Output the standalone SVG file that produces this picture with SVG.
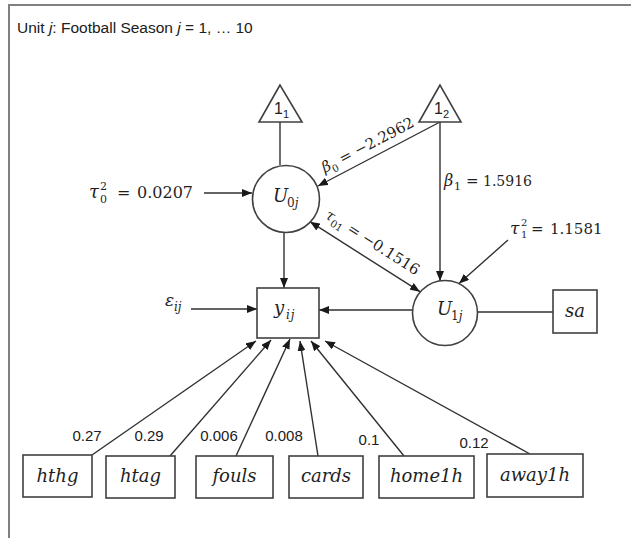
<svg xmlns="http://www.w3.org/2000/svg" width="631" height="538" viewBox="0 0 631 538">
<style>
.ln{stroke:#303030;stroke-width:1.4;fill:none}
.ar{marker-end:url(#ah)}
.nd{fill:#fff;stroke:#404040;stroke-width:1.6}
.mt{font-family:"DejaVu Serif",serif;fill:#1f1f1f}
.it{font-style:italic}
.sn{font-family:"Liberation Sans",Arial,sans-serif;fill:#202020}
.lbl{font-family:"DejaVu Serif",serif;font-style:italic;font-size:18px;fill:#1f1f1f;text-anchor:middle}
.co{font-family:"Liberation Sans",Arial,sans-serif;font-size:15px;fill:#202020;text-anchor:middle}
</style>
<defs>
<marker id="ah" viewBox="0 0 10 8" refX="10" refY="4" markerWidth="10" markerHeight="8" markerUnits="userSpaceOnUse" orient="auto-start-reverse"><path d="M0,0 L10,4 L0,8 z" fill="#1a1a1a"/></marker>
</defs>
<rect x="0" y="0" width="631" height="538" fill="#fff"/>
<rect x="9" y="5" width="700" height="600" fill="#fff" stroke="#808080" stroke-width="2"/>
<text id="title" class="sn" x="17" y="33" font-size="15.5">Unit <tspan font-style="italic">j</tspan>: Football Season <tspan font-style="italic">j</tspan> = 1, … 10</text>

<g id="connectors">
<path class="ln ar" d="M204,193 H252"/>
<path class="ln" d="M280,122 V165"/>
<path class="ln ar" d="M440,122 L318,186"/>
<path class="ln ar" d="M440,122 V281"/>
<path class="ln ar" d="M508,240 L459,283.5"/>
<path class="ln ar" d="M310,221.7 L420,291.7" marker-start="url(#ah)"/>
<path class="ln ar" d="M284,232.5 V288"/>
<path class="ln ar" d="M191,309 H257"/>
<path class="ln ar" d="M413,310 H319"/>
<path class="ln" d="M477.5,312 H553"/>
<path class="ln ar" d="M92,455 L256,341"/>
<path class="ln ar" d="M170,456 L271,340"/>
<path class="ln ar" d="M236,456 L290,339"/>
<path class="ln ar" d="M318,456 L300,341"/>
<path class="ln ar" d="M404,456 L311,341"/>
<path class="ln ar" d="M530,454 L325,341"/>
</g>

<g id="edge-labels">
<text class="mt" font-size="16"><tspan x="89" y="198" class="it" font-size="18">τ</tspan><tspan x="100" y="190" font-size="11">2</tspan><tspan x="100" y="203" font-size="11">0</tspan><tspan x="117" y="198">=</tspan><tspan x="137" y="198">0.0207</tspan></text>
<text class="mt" font-size="15"><tspan x="444" y="186" class="it" font-size="16">β</tspan><tspan x="454" y="190" font-size="11">1</tspan><tspan x="466" y="186">=</tspan><tspan x="483" y="186" font-size="14">1.5916</tspan></text>
<text class="mt" font-size="15"><tspan x="510" y="234" class="it" font-size="17">τ</tspan><tspan x="521" y="226" font-size="10">2</tspan><tspan x="521" y="238" font-size="10">1</tspan><tspan x="531" y="234">=</tspan><tspan x="550" y="234">1.1581</tspan></text>
<text class="mt" font-size="15" text-anchor="middle" transform="translate(370,149.5) rotate(-27.5)"><tspan class="it">β</tspan><tspan font-size="10" dy="4">0</tspan><tspan dy="-4"> = −2.2962</tspan></text>
<text class="mt" font-size="15" text-anchor="middle" transform="translate(370,246.5) rotate(32.5)"><tspan class="it">τ</tspan><tspan font-size="10" dy="4">01</tspan><tspan dy="-4"> = −0.1516</tspan></text>
<text class="mt"><tspan x="165" y="306" class="it" font-size="17">ε</tspan><tspan x="174" y="311" class="it" font-size="12">ij</tspan></text>
<text class="co" x="87" y="441">0.27</text>
<text class="co" x="149" y="441">0.29</text>
<text class="co" x="219" y="441">0.006</text>
<text class="co" x="284" y="441">0.008</text>
<text class="co" x="369" y="445">0.1</text>
<text class="co" x="474" y="448">0.12</text>
</g>

<g id="one1">
<polygon class="nd" points="280,85 259,122 302,122"/>
<text class="sn"><tspan x="274" y="114" font-size="16">1</tspan><tspan x="283" y="118" font-size="11">1</tspan></text>
</g>
<g id="one2">
<polygon class="nd" points="440,85 419,122 461,122"/>
<text class="sn"><tspan x="434" y="114" font-size="16">1</tspan><tspan x="443" y="118" font-size="11">2</tspan></text>
</g>
<g id="U0j">
<circle class="nd" cx="286" cy="199" r="33.5"/>
<text class="mt"><tspan x="273" y="202" class="it" font-size="18">U</tspan><tspan x="287" y="207" font-size="12">0</tspan><tspan class="it" font-size="12">j</tspan></text>
</g>
<g id="U1j">
<circle class="nd" cx="445" cy="313" r="32.5"/>
<text class="mt"><tspan x="437" y="315" class="it" font-size="18">U</tspan><tspan x="451" y="320" font-size="12">1</tspan><tspan class="it" font-size="12">j</tspan></text>
</g>
<g id="yij">
<rect class="nd" x="257" y="288" width="62" height="50"/>
<text class="mt"><tspan x="274" y="314" class="it" font-size="18">y</tspan><tspan x="286" y="319" class="it" font-size="12" letter-spacing="1">ij</tspan></text>
</g>
<g id="sa">
<rect class="nd" x="553" y="290" width="44" height="43"/>
<text class="lbl" x="575" y="317">sa</text>
</g>
<g id="hthg">
<rect class="nd" x="23" y="455" width="69" height="42"/>
<text class="lbl" x="57.5" y="482">hthg</text>
</g>
<g id="htag">
<rect class="nd" x="106" y="456" width="69" height="42"/>
<text class="lbl" x="140.5" y="482">htag</text>
</g>
<g id="fouls">
<rect class="nd" x="196" y="456" width="77" height="42"/>
<text class="lbl" x="234.5" y="482">fouls</text>
</g>
<g id="cards">
<rect class="nd" x="289" y="456" width="74" height="42"/>
<text class="lbl" x="326" y="482">cards</text>
</g>
<g id="home1h">
<rect class="nd" x="379" y="456" width="95" height="42"/>
<text class="lbl" x="426.5" y="482">home1h</text>
</g>
<g id="away1h">
<rect class="nd" x="487" y="454" width="96" height="43"/>
<text class="lbl" x="535" y="481">away1h</text>
</g>
</svg>
